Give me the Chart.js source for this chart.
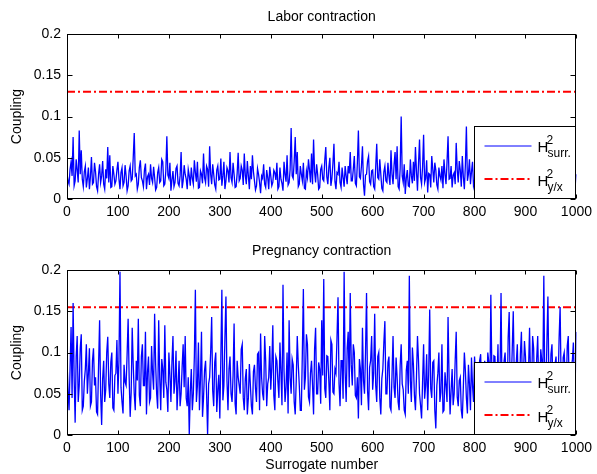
<!DOCTYPE html>
<html>
<head>
<meta charset="utf-8">
<script src="https://cdn.jsdelivr.net/npm/chart.js@4.4.0/dist/chart.umd.min.js"></script>
<style>
  body { margin: 0; background: #fff; }
  canvas { position: absolute; left: 0; }
</style>
</head>
<body>
<canvas id="chartLabor" width="597" height="237" style="top:0"></canvas>
<canvas id="chartPreg" width="597" height="237" style="top:237px"></canvas>
<script>
// surrogates leidos cada 2 muestras (0, 2, 4 ... 1000)
const PASO_SURROGADO = 2;

const hSurrLabor = [
  0.030, 0.022, 0.018, 0.036, 0.045, 0.028, 0.075, 0.016, 0.022, 0.048, 0.035, 0.020, 0.083, 0.030, 0.059, 0.024, 0.015, 0.033, 0.040, 0.014,
  0.025, 0.038, 0.012, 0.027, 0.051, 0.018, 0.020, 0.044, 0.033, 0.015, 0.010, 0.030, 0.042, 0.020, 0.028, 0.046, 0.018, 0.012, 0.036, 0.025,
  0.063, 0.020, 0.053, 0.014, 0.015, 0.040, 0.030, 0.018, 0.022, 0.035, 0.045, 0.024, 0.012, 0.032, 0.038, 0.016, 0.020, 0.041, 0.028, 0.010,
  0.016, 0.034, 0.040, 0.022, 0.024, 0.050, 0.080, 0.028, 0.030, 0.012, 0.018, 0.038, 0.047, 0.026, 0.022, 0.015, 0.035, 0.043, 0.012, 0.027,
  0.030, 0.017, 0.042, 0.025, 0.020, 0.039, 0.026, 0.011, 0.014, 0.032, 0.038, 0.020, 0.022, 0.048, 0.045, 0.016, 0.018, 0.034, 0.076, 0.029,
  0.025, 0.044, 0.010, 0.023, 0.034, 0.015, 0.020, 0.037, 0.040, 0.019, 0.016, 0.028, 0.057, 0.013, 0.022, 0.041, 0.030, 0.024, 0.012, 0.036,
  0.028, 0.016, 0.038, 0.025, 0.018, 0.047, 0.032, 0.021, 0.045, 0.013, 0.014, 0.034, 0.030, 0.019, 0.055, 0.026, 0.020, 0.040, 0.036, 0.015,
  0.064, 0.030, 0.018, 0.042, 0.030, 0.017, 0.012, 0.035, 0.040, 0.023, 0.024, 0.049, 0.016, 0.028, 0.045, 0.012, 0.022, 0.038, 0.034, 0.020,
  0.057, 0.026, 0.020, 0.044, 0.030, 0.014, 0.015, 0.031, 0.056, 0.022, 0.025, 0.040, 0.035, 0.017, 0.055, 0.029, 0.018, 0.046, 0.028, 0.012,
  0.040, 0.024, 0.053, 0.033, 0.022, 0.011, 0.016, 0.037, 0.030, 0.020, 0.007, 0.028, 0.025, 0.042, 0.018, 0.014, 0.035, 0.026, 0.012, 0.039,
  0.028, 0.016, 0.020, 0.035, 0.032, 0.023, 0.044, 0.012, 0.015, 0.038, 0.024, 0.019, 0.010, 0.045, 0.030, 0.021, 0.053, 0.017, 0.020, 0.036,
  0.086, 0.028, 0.025, 0.046, 0.075, 0.030, 0.057, 0.015, 0.018, 0.040, 0.030, 0.022, 0.044, 0.013, 0.012, 0.034, 0.026, 0.048, 0.035, 0.020,
  0.055, 0.018, 0.072, 0.033, 0.020, 0.042, 0.030, 0.012, 0.014, 0.036, 0.040, 0.024, 0.022, 0.047, 0.063, 0.027, 0.018, 0.038, 0.050, 0.016,
  0.025, 0.043, 0.067, 0.021, 0.012, 0.032, 0.030, 0.045, 0.020, 0.014, 0.038, 0.026, 0.015, 0.040, 0.028, 0.018, 0.040, 0.031, 0.057, 0.022,
  0.022, 0.036, 0.052, 0.019, 0.016, 0.044, 0.083, 0.027, 0.025, 0.040, 0.064, 0.018, 0.004, 0.029, 0.030, 0.046, 0.052, 0.021, 0.018, 0.034,
  0.035, 0.015, 0.012, 0.039, 0.067, 0.026, 0.024, 0.048, 0.030, 0.013, 0.010, 0.033, 0.040, 0.022, 0.020, 0.044, 0.028, 0.017, 0.059, 0.030,
  0.018, 0.041, 0.057, 0.024, 0.064, 0.015, 0.012, 0.037, 0.100, 0.028, 0.020, 0.042, 0.006, 0.025, 0.035, 0.016, 0.015, 0.048, 0.028, 0.019,
  0.045, 0.022, 0.063, 0.034, 0.010, 0.043, 0.072, 0.026, 0.018, 0.039, 0.078, 0.020, 0.025, 0.047, 0.008, 0.031, 0.030, 0.014, 0.052, 0.036,
  0.020, 0.044, 0.035, 0.017, 0.012, 0.038, 0.028, 0.023, 0.040, 0.013, 0.048, 0.030, 0.018, 0.045, 0.076, 0.024, 0.025, 0.040, 0.014, 0.029,
  0.032, 0.018, 0.068, 0.036, 0.020, 0.046, 0.035, 0.015, 0.052, 0.027, 0.012, 0.041, 0.088, 0.022, 0.030, 0.048, 0.018, 0.033, 0.045, 0.016,
  0.022, 0.040, 0.035, 0.019, 0.014, 0.037, 0.050, 0.025, 0.026, 0.012, 0.018, 0.043, 0.040, 0.021, 0.012, 0.034, 0.030, 0.047, 0.024, 0.016,
  0.045, 0.029, 0.016, 0.038, 0.032, 0.014, 0.020, 0.044, 0.055, 0.023, 0.025, 0.036, 0.012, 0.041, 0.038, 0.018, 0.022, 0.030, 0.030, 0.049,
  0.018, 0.026, 0.042, 0.013, 0.026, 0.039, 0.014, 0.031, 0.048, 0.020, 0.020, 0.045, 0.034, 0.017, 0.010, 0.036, 0.040, 0.024, 0.025, 0.042,
  0.030, 0.015, 0.016, 0.037, 0.052, 0.028, 0.022, 0.011, 0.035, 0.043, 0.012, 0.026, 0.028, 0.019, 0.044, 0.035, 0.018, 0.047, 0.032, 0.021,
  0.024, 0.039, 0.040, 0.016, 0.015, 0.033, 0.030, 0.045, 0.020, 0.013, 0.046, 0.028, 0.018, 0.040, 0.035, 0.022, 0.012, 0.037, 0.028, 0.019,
  0.030
];

const hSurrPreg = [
  0.090, 0.055, 0.030, 0.080, 0.131, 0.045, 0.160, 0.070, 0.015, 0.095, 0.120, 0.040, 0.060, 0.105, 0.122, 0.030, 0.035, 0.065, 0.080, 0.110,
  0.050, 0.075, 0.105, 0.035, 0.040, 0.090, 0.105, 0.060, 0.070, 0.028, 0.025, 0.085, 0.139, 0.050, 0.012, 0.068, 0.090, 0.040, 0.055, 0.100,
  0.119, 0.062, 0.045, 0.088, 0.100, 0.033, 0.030, 0.072, 0.075, 0.115, 0.050, 0.090, 0.198, 0.058, 0.040, 0.026, 0.085, 0.064, 0.060, 0.098,
  0.141, 0.070, 0.022, 0.052, 0.130, 0.085, 0.050, 0.030, 0.090, 0.066, 0.141, 0.048, 0.035, 0.095, 0.110, 0.060, 0.060, 0.125, 0.025, 0.076,
  0.095, 0.040, 0.045, 0.108, 0.075, 0.055, 0.147, 0.086, 0.050, 0.032, 0.139, 0.070, 0.030, 0.092, 0.080, 0.045, 0.133, 0.064, 0.055, 0.028,
  0.100, 0.073, 0.040, 0.088, 0.120, 0.050, 0.065, 0.102, 0.030, 0.060, 0.090, 0.035, 0.050, 0.082, 0.110, 0.058, 0.120, 0.045, 0.035, 0.070,
  0.000, 0.052, 0.080, 0.030, 0.050, 0.095, 0.176, 0.040, 0.060, 0.112, 0.030, 0.068, 0.125, 0.022, 0.045, 0.078, 0.090, 0.050, 0.000, 0.062,
  0.070, 0.100, 0.143, 0.054, 0.035, 0.088, 0.100, 0.028, 0.055, 0.073, 0.020, 0.094, 0.176, 0.042, 0.060, 0.118, 0.168, 0.066, 0.030, 0.080,
  0.095, 0.050, 0.040, 0.072, 0.135, 0.038, 0.025, 0.090, 0.070, 0.060, 0.050, 0.104, 0.110, 0.045, 0.030, 0.068, 0.080, 0.025, 0.045, 0.086,
  0.060, 0.035, 0.025, 0.077, 0.085, 0.056, 0.040, 0.098, 0.100, 0.030, 0.123, 0.070, 0.050, 0.042, 0.120, 0.090, 0.035, 0.062, 0.070, 0.108,
  0.055, 0.082, 0.133, 0.048, 0.030, 0.095, 0.090, 0.065, 0.045, 0.112, 0.075, 0.036, 0.182, 0.078, 0.040, 0.058, 0.100, 0.026, 0.139, 0.070,
  0.050, 0.092, 0.085, 0.040, 0.025, 0.066, 0.120, 0.085, 0.060, 0.030, 0.030, 0.100, 0.177, 0.055, 0.070, 0.122, 0.110, 0.046, 0.040, 0.075,
  0.090, 0.060, 0.025, 0.104, 0.130, 0.050, 0.050, 0.088, 0.080, 0.038, 0.139, 0.072, 0.189, 0.056, 0.045, 0.096, 0.095, 0.065, 0.030, 0.115,
  0.110, 0.052, 0.050, 0.080, 0.075, 0.118, 0.167, 0.062, 0.035, 0.090, 0.090, 0.044, 0.198, 0.076, 0.040, 0.105, 0.125, 0.058, 0.172, 0.085,
  0.060, 0.110, 0.100, 0.048, 0.045, 0.070, 0.020, 0.092, 0.080, 0.036, 0.130, 0.066, 0.050, 0.100, 0.172, 0.054, 0.030, 0.082, 0.090, 0.120,
  0.055, 0.075, 0.147, 0.060, 0.040, 0.095, 0.100, 0.045, 0.025, 0.068, 0.080, 0.112, 0.138, 0.050, 0.050, 0.088, 0.095, 0.034, 0.030, 0.072,
  0.120, 0.058, 0.045, 0.094, 0.070, 0.040, 0.030, 0.084, 0.110, 0.062, 0.055, 0.030, 0.025, 0.078, 0.090, 0.050, 0.193, 0.066, 0.040, 0.106,
  0.085, 0.048, 0.030, 0.070, 0.120, 0.090, 0.050, 0.036, 0.020, 0.064, 0.110, 0.044, 0.060, 0.098, 0.030, 0.074, 0.152, 0.056, 0.045, 0.088,
  0.090, 0.030, 0.008, 0.060, 0.075, 0.100, 0.040, 0.052, 0.110, 0.028, 0.030, 0.076, 0.060, 0.040, 0.143, 0.070, 0.025, 0.054, 0.080, 0.036,
  0.050, 0.090, 0.125, 0.046, 0.035, 0.066, 0.070, 0.030, 0.020, 0.058, 0.100, 0.078, 0.045, 0.026, 0.085, 0.062, 0.030, 0.094, 0.060, 0.040,
  0.095, 0.070, 0.040, 0.055, 0.070, 0.090, 0.098, 0.048, 0.030, 0.080, 0.090, 0.060, 0.050, 0.100, 0.088, 0.042, 0.170, 0.076, 0.035, 0.096,
  0.095, 0.058, 0.060, 0.110, 0.030, 0.070, 0.172, 0.050, 0.045, 0.090, 0.100, 0.064, 0.040, 0.118, 0.149, 0.056, 0.060, 0.104, 0.150, 0.070,
  0.050, 0.088, 0.110, 0.045, 0.035, 0.098, 0.125, 0.060, 0.070, 0.114, 0.095, 0.052, 0.040, 0.080, 0.130, 0.066, 0.055, 0.120, 0.105, 0.048,
  0.030, 0.092, 0.120, 0.058, 0.060, 0.104, 0.090, 0.070, 0.193, 0.050, 0.040, 0.112, 0.168, 0.064, 0.050, 0.098, 0.110, 0.056, 0.035, 0.086,
  0.095, 0.050, 0.060, 0.118, 0.155, 0.062, 0.040, 0.094, 0.100, 0.070, 0.055, 0.108, 0.120, 0.046, 0.030, 0.084, 0.090, 0.112, 0.060, 0.075,
  0.125
];

const hyxLabor = 0.13;
const hyxPreg = 0.155;

const X_MIN = 0, X_MAX = 1000, X_PASO = 100;
const Y_MIN = 0, Y_MAX = 0.2, Y_PASO = 0.05;

const FUENTE = '"Liberation Sans", Arial, sans-serif';

Chart.defaults.color = '#000';
Chart.defaults.font.family = FUENTE;
Chart.defaults.font.size = 14;

// caja tipo matlab con marcas hacia adentro + leyenda abajo a la derecha
const marcoMatlab = {
  id: 'marcoMatlab',
  afterDatasetsDraw(chart) {
    const { ctx, chartArea: a, scales: { x, y } } = chart;
    const L = Math.round(a.left) + 0.5, R = Math.round(a.right) - 0.5;
    const T = Math.round(a.top) + 0.5, B = Math.round(a.bottom) - 0.5;
    ctx.save();
    ctx.strokeStyle = '#000';
    ctx.lineWidth = 1;
    ctx.beginPath();
    x.ticks.forEach(t => {
      const px = Math.round(x.getPixelForValue(t.value)) + 0.5;
      ctx.moveTo(px, T); ctx.lineTo(px, T + 4);
      ctx.moveTo(px, B); ctx.lineTo(px, B - 4);
    });
    y.ticks.forEach(t => {
      const py = Math.round(y.getPixelForValue(t.value)) + 0.5;
      ctx.moveTo(L, py); ctx.lineTo(L + 5, py);
      ctx.moveTo(R, py); ctx.lineTo(R - 5, py);
    });
    ctx.stroke();
    ctx.strokeRect(L, T, R - L, B - T);

    // leyenda
    const lx = 474.5, ly = B - 72;
    ctx.fillStyle = '#fff';
    ctx.fillRect(lx, ly, R - lx, B - ly);
    ctx.strokeRect(lx, ly, R - lx, B - ly);

    ctx.strokeStyle = '#0000ff';
    ctx.lineWidth = 1;
    ctx.beginPath();
    ctx.moveTo(lx + 10, ly + 19.5); ctx.lineTo(lx + 57, ly + 19.5);
    ctx.stroke();

    ctx.strokeStyle = '#ff0000';
    ctx.lineWidth = 2;
    ctx.setLineDash([8, 3, 2, 3]);
    ctx.beginPath();
    ctx.moveTo(lx + 10, ly + 52.5); ctx.lineTo(lx + 57, ly + 52.5);
    ctx.stroke();
    ctx.setLineDash([]);

    ctx.fillStyle = '#000';
    ctx.textBaseline = 'alphabetic';
    ctx.textAlign = 'left';
    const etiqueta = (yBase, sub) => {
      ctx.font = '15px ' + FUENTE;
      ctx.fillText('H', lx + 63, yBase);
      ctx.font = '12px ' + FUENTE;
      ctx.fillText('2', lx + 72, yBase - 8);
      ctx.fillText(sub, lx + 73, yBase + 5);
    };
    etiqueta(ly + 25, 'surr.');
    etiqueta(ly + 59, 'y/x');
    ctx.restore();
  }
};

function crearPanel(canvas, titulo, serie, hyx, padTitulo, altoEjeX, tituloX) {
  const puntos = serie.map((v, i) => ({ x: i * PASO_SURROGADO, y: v }));
  const linea = [{ x: X_MIN, y: hyx }, { x: X_MAX, y: hyx }];
  return new Chart(canvas, {
    type: 'line',
    data: {
      datasets: [
        {
          label: 'H2 surr.',
          data: puntos,
          borderColor: '#0000ff',
          borderWidth: 1.3,
          pointRadius: 0,
          tension: 0
        },
        {
          label: 'H2 y/x',
          data: linea,
          borderColor: '#ff0000',
          borderWidth: 2,
          borderDash: [8, 3, 2, 3],
          pointRadius: 0
        }
      ]
    },
    options: {
      responsive: false,
      animation: false,
      layout: { padding: { left: 0, right: 16, top: 0, bottom: 0 } },
      plugins: {
        legend: { display: false },
        tooltip: { enabled: false },
        title: {
          display: true,
          fullSize: false,
          text: titulo,
          color: '#000',
          font: { size: 14, weight: 'normal' },
          padding: padTitulo
        }
      },
      scales: {
        x: {
          type: 'linear',
          min: X_MIN,
          max: X_MAX,
          grid: { display: false, drawTicks: false },
          border: { display: false },
          ticks: { stepSize: X_PASO, padding: 5, maxRotation: 0, callback: v => String(v) },
          title: {
            display: !!tituloX,
            text: tituloX || '',
            font: { size: 14 },
            padding: { top: 0, bottom: 0 }
          },
          afterFit: s => { s.height = altoEjeX; }
        },
        y: {
          min: Y_MIN,
          max: Y_MAX,
          grid: { display: false, drawTicks: false },
          border: { display: false },
          ticks: {
            stepSize: Y_PASO,
            padding: 6,
            callback: v => String(+v.toFixed(2))
          },
          title: {
            display: true,
            text: 'Coupling',
            font: { size: 14 },
            padding: { top: 8.6, bottom: 0 }
          },
          afterFit: s => { s.width = 67; }
        }
      }
    },
    plugins: [marcoMatlab]
  });
}

crearPanel(document.getElementById('chartLabor'), 'Labor contraction',
  hSurrLabor, hyxLabor, { top: 8.6, bottom: 8.6 }, 38, null);
crearPanel(document.getElementById('chartPreg'), 'Pregnancy contraction',
  hSurrPreg, hyxPreg, { top: 5.6, bottom: 10.6 }, 39, 'Surrogate number');
</script>
</body>
</html>
